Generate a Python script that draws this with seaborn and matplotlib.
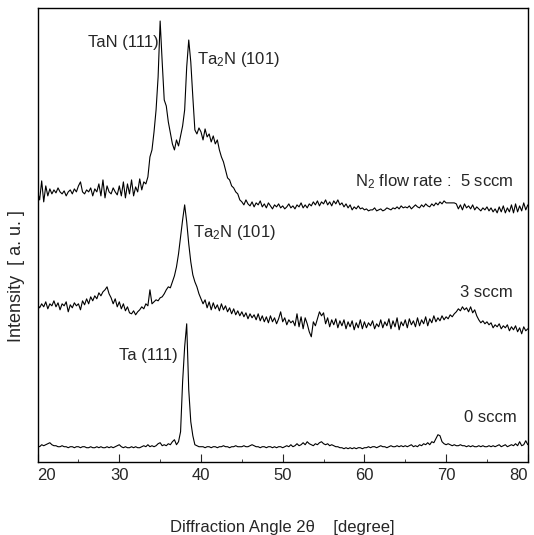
import numpy as np
import pandas as pd
import matplotlib
matplotlib.use('Agg')
import matplotlib.pyplot as plt
import matplotlib.transforms as mtrans
import seaborn as sns
from matplotlib.ticker import MultipleLocator

sns.set_style('white')
plt.rcParams['font.family'] = ['Liberation Sans', 'DejaVu Sans']
plt.rcParams['mathtext.fontset'] = 'custom'
plt.rcParams['mathtext.rm'] = 'Liberation Sans'
plt.rcParams['mathtext.it'] = 'Liberation Sans'

# 2-theta grid (degree), step 0.25
two_theta = np.arange(20.0, 80.0001, 0.25)

# intensities (arbitrary units, curves already offset as in the figure)
flow_5sccm = [
    270, 262, 281, 260, 276, 266, 273, 268, 272, 269, 274, 270, 268, 271, 266, 270, 272, 268, 273, 270,
    276, 280, 270, 268, 272, 270, 274, 266, 273, 270, 278, 266, 282, 264, 276, 270, 268, 274, 270, 267,
    276, 266, 280, 264, 278, 268, 282, 266, 275, 270, 283, 272, 280, 278, 285, 305, 312, 330, 352, 385,
    441, 400, 362, 356, 340, 329, 318, 312, 322, 316, 326, 336, 352, 395, 422, 400, 365, 332, 328, 334,
    330, 322, 333, 325, 328, 320, 326, 318, 322, 312, 305, 300, 292, 284, 282, 276, 274, 270, 268, 262,
    260, 257, 262, 258, 256, 260, 255, 259, 257, 261, 255, 258, 254, 259, 256, 253, 257, 255, 258, 254,
    256, 253, 255, 258, 254, 256, 253, 257, 255, 259, 254, 257, 254, 258, 256, 260, 257, 261, 256, 260,
    258, 262, 257, 260, 256, 261, 258, 262, 257, 259, 255, 258, 254, 257, 252, 255, 253, 256, 253, 254,
    252, 253, 251, 252, 252, 254, 251, 252, 253, 251, 252, 254, 253, 252, 254, 253, 255, 253, 256, 254,
    255, 254, 256, 253, 255, 257, 255, 254, 257, 255, 258, 256, 255, 258, 256, 259, 257, 260, 258, 261,
    259, 259, 259, 259, 259, 258, 253, 257, 252, 258, 254, 256, 253, 257, 252, 255, 253, 251, 254, 252,
    255, 251, 254, 250, 253, 249, 255, 250, 256, 249, 254, 250, 257, 249, 258, 250, 256, 251, 259, 252,
    257,
]

flow_3sccm = [
    157, 154, 158, 155, 160, 153, 158, 156, 161, 155, 159, 152, 158, 156, 160, 150, 157, 154, 159, 156,
    158, 152, 161, 157, 163, 158, 165, 161, 166, 163, 169, 166, 170, 172, 175, 168, 164, 158, 163, 155,
    160, 153, 158, 151, 155, 149, 148, 151, 147, 150, 152, 155, 153, 158, 156, 172, 158, 160, 162, 161,
    164, 165, 168, 172, 175, 174, 180, 186, 195, 208, 225, 242, 257, 240, 218, 200, 187, 180, 175, 168,
    163, 158, 162, 154, 160, 152, 159, 153, 157, 151, 158, 152, 156, 150, 154, 148, 153, 147, 151, 146,
    150, 145, 149, 143, 148, 144, 147, 142, 148, 141, 146, 140, 145, 139, 146, 140, 144, 138, 143, 150,
    140, 144, 137, 142, 139, 141, 136, 148, 135, 145, 133, 144, 138, 130, 125, 140, 136, 143, 150, 146,
    149, 138, 144, 135, 142, 137, 143, 134, 141, 136, 142, 133, 140, 135, 141, 132, 139, 134, 142, 133,
    140, 134, 139, 136, 141, 133, 138, 135, 142, 134, 140, 136, 143, 133, 141, 135, 144, 132, 140, 136,
    142, 134, 143, 137, 141, 135, 144, 136, 142, 138, 145, 136, 143, 139, 146, 140, 144, 141, 146, 142,
    145, 143, 147, 145, 148, 150, 153, 151, 155, 152, 154, 150, 155, 149, 152, 146, 142, 139, 141, 138,
    140, 137, 139, 134, 137, 135, 138, 133, 136, 134, 137, 131, 135, 132, 136, 130, 134, 128, 135, 131,
    133,
]

flow_0sccm = [
    16, 15, 17, 16, 17, 18, 19, 17, 16, 16, 15, 15, 16, 15, 15, 14, 15, 15, 14, 15,
    15, 14, 15, 15, 14, 14, 15, 14, 14, 15, 14, 15, 14, 14, 15, 14, 15, 14, 15, 16,
    17, 15, 14, 15, 14, 14, 15, 14, 15, 14, 14, 15, 16, 15, 17, 15, 16, 15, 16, 18,
    19, 16, 17, 16, 18, 17, 20, 22, 17, 20, 30, 80, 115, 138, 72, 40, 26, 17, 16, 15,
    15, 15, 14, 15, 15, 14, 15, 15, 14, 15, 15, 16, 15, 15, 14, 15, 15, 16, 15, 15,
    15, 16, 15, 15, 16, 17, 16, 15, 15, 14, 15, 15, 14, 15, 15, 14, 15, 14, 15, 15,
    14, 15, 16, 15, 17, 15, 16, 18, 16, 17, 19, 17, 20, 18, 17, 16, 18, 17, 19, 20,
    18, 17, 18, 16, 17, 16, 15, 15, 14, 14, 13, 14, 13, 14, 13, 14, 13, 14, 14, 13,
    14, 14, 15, 14, 15, 15, 14, 15, 16, 15, 15, 14, 15, 16, 15, 15, 16, 15, 16, 15,
    16, 15, 16, 17, 15, 16, 15, 17, 16, 18, 17, 19, 17, 20, 19, 23, 27, 26, 20, 18,
    17, 18, 17, 16, 17, 16, 16, 17, 16, 16, 15, 16, 15, 16, 15, 15, 16, 15, 16, 15,
    15, 16, 15, 16, 15, 16, 17, 15, 16, 17, 15, 16, 17, 16, 18, 16, 20, 16, 17, 21,
    17,
]

fig = plt.figure(figsize=(5.34, 5.35), dpi=100)
ax = fig.add_axes([0.0704, 0.137, 0.918, 0.848])

for series in [flow_5sccm, flow_3sccm, flow_0sccm]:
    sns.lineplot(x=two_theta, y=series, color='black', linewidth=0.8, ax=ax)

ax.set_xlim(20, 80)
ax.set_ylim(0, 454)
ax.xaxis.set_major_locator(MultipleLocator(10))
ax.xaxis.set_minor_locator(MultipleLocator(5))
ax.set_yticks([])
ax.tick_params(axis='x', which='major', direction='in', bottom=True, length=6, width=0.8,
               labelbottom=False)
ax.tick_params(axis='x', which='minor', direction='in', bottom=True, length=2.5, width=0.6)
for sp in ax.spines.values():
    sp.set_color('black')
    sp.set_linewidth(1.0)

# tick labels: the two end labels sit inside the frame edges, as in the original
lo, hi = ax.get_xlim()
trans = mtrans.blended_transform_factory(ax.transData, ax.transAxes)
for v in ax.get_xticks():
    if v < lo or v > hi:
        continue
    ha = 'left' if v == lo else ('right' if v == hi else 'center')
    ax.text(v, -0.031, f'{v:.0f}', transform=trans, ha=ha, va='center', fontsize=12)

ax.set_xlabel('Diffraction Angle 2θ    [degree]', fontsize=12)
ax.xaxis.label.set_va('center')
ax.xaxis.set_label_coords(0.5, -0.145)
ax.set_ylabel('Intensity  [ a. u. ]', fontsize=13)
ax.yaxis.set_label_coords(-0.026, 0.41)

fs = 12
ax.text(34.8, 420, 'TaN (111)', ha='right', va='center', fontsize=fs)
ax.text(39.5, 402, 'Ta$_2$N (101)', ha='left', va='center', fontsize=fs)
ax.text(78.2, 280, 'N$_2$ flow rate :  5 sccm', ha='right', va='center', fontsize=fs)
ax.text(39.0, 229, 'Ta$_2$N (101)', ha='left', va='center', fontsize=fs)
ax.text(78.2, 169, '3 sccm', ha='right', va='center', fontsize=fs)
ax.text(37.2, 106, 'Ta (111)', ha='right', va='center', fontsize=fs)
ax.text(78.7, 44, '0 sccm', ha='right', va='center', fontsize=fs)

fig.savefig('out.png', dpi=100)
